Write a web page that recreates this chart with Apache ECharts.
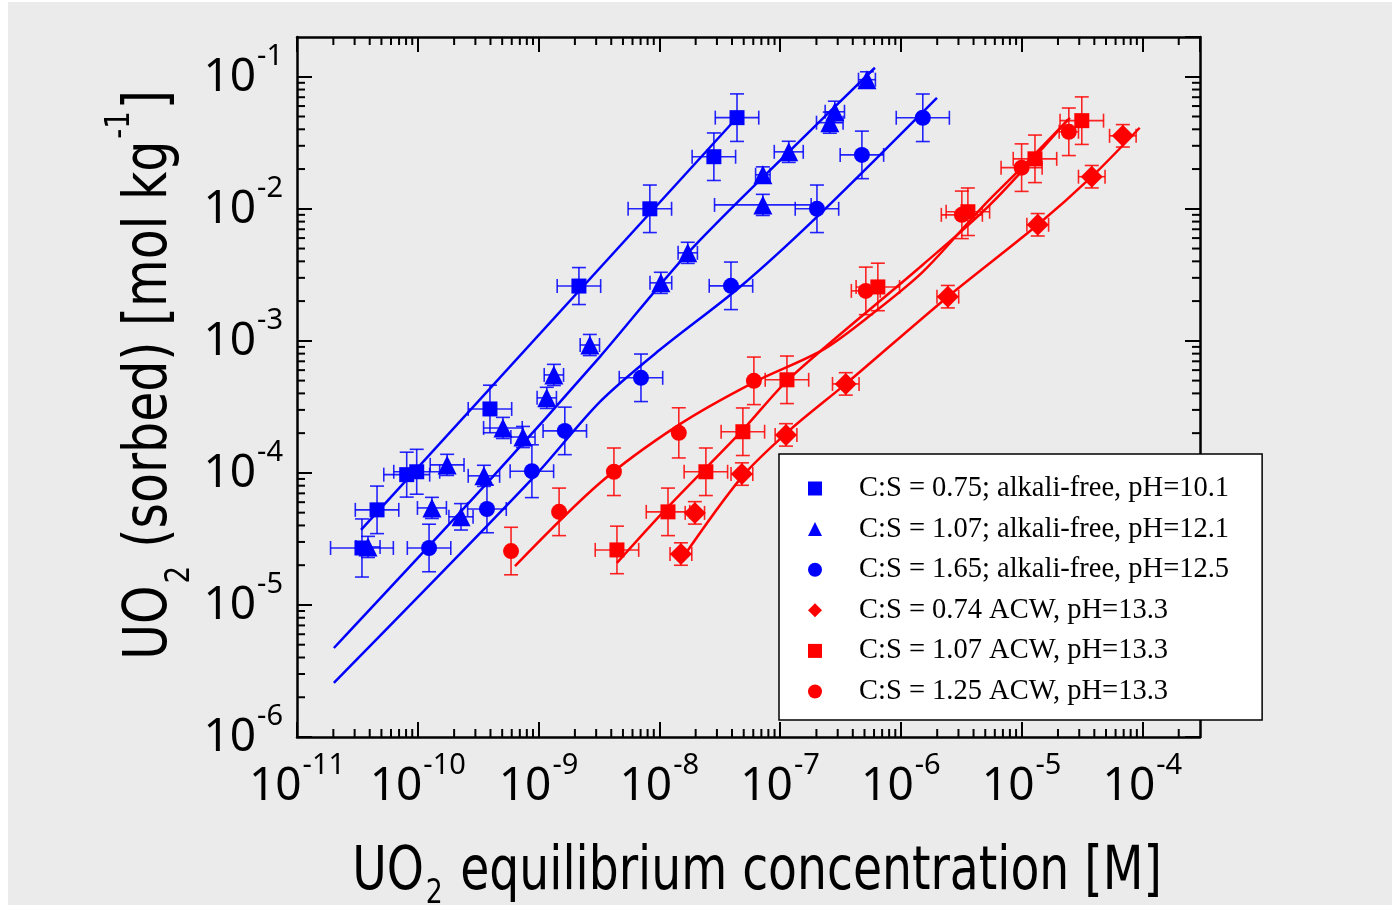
<!DOCTYPE html>
<html><head><meta charset="utf-8">
<script src="https://cdn.jsdelivr.net/npm/echarts@6/dist/echarts.min.js"></script>
<style>html,body{margin:0;padding:0;background:#fff}#c{width:1398px;height:911px}</style>
</head><body><div id="c"></div><script>
// ---- axis ranges & tick labels (real units / exponents) ----
const X_MIN = 1e-11, X_MAX = 3e-4;
const Y_MIN = 1e-6, Y_MAX = 0.2;
const xExponents = [-11, -10, -9, -8, -7, -6, -5, -4];
const yExponents = [-6, -5, -4, -3, -2, -1];
const xTitle = ['UO', '2', ' equilibrium concentration [M]'];
const yTitle = ['UO', '2', ' (sorbed) [mol kg', '-1', ']'];

const seriesNames = [
  'C:S = 0.75; alkali-free, pH=10.1',
  'C:S = 1.07; alkali-free, pH=12.1',
  'C:S = 1.65; alkali-free, pH=12.5',
  'C:S = 0.74 ACW, pH=13.3',
  'C:S = 1.07 ACW, pH=13.3',
  'C:S = 1.25 ACW, pH=13.3'
];

// data points: [x (M), y (mol/kg), x-error (log10 half width), y-error (log10 half width)]
const blueSquares = [
  [3.45e-11, 2.7e-5, 0.26, 0.22], [4.6e-11, 5.25e-5, 0.18, 0.18], [8.1e-11, 9.7e-5, 0.19, 0.17],
  [9.8e-11, 1.02e-4, 0.19, 0.17], [3.96e-10, 3.05e-4, 0.18, 0.18], [2.16e-9, 2.6e-3, 0.18, 0.14],
  [8.35e-9, 1.0e-2, 0.18, 0.18], [2.83e-8, 2.48e-2, 0.18, 0.18], [4.4e-8, 4.9e-2, 0.18, 0.18]
];
const blueTriangles = [
  [3.87e-11, 2.75e-5, 0.10, 0.08], [1.31e-10, 5.43e-5, 0.12, 0.08], [1.75e-10, 1.15e-4, 0.14, 0.08],
  [2.28e-10, 4.65e-5, 0.10, 0.10], [3.53e-10, 9.5e-5, 0.13, 0.08], [5.07e-10, 2.19e-4, 0.16, 0.08],
  [7.43e-10, 1.87e-4, 0.10, 0.08], [1.17e-9, 3.7e-4, 0.08, 0.08], [1.34e-9, 5.52e-4, 0.08, 0.08],
  [2.66e-9, 9.3e-4, 0.08, 0.08], [1.03e-8, 2.75e-3, 0.09, 0.08], [1.72e-8, 4.64e-3, 0.08, 0.08],
  [7.2e-8, 1.07e-2, 0.40, 0.08], [7.2e-8, 1.81e-2, 0.06, 0.06], [1.18e-7, 2.7e-2, 0.12, 0.08],
  [2.58e-7, 4.49e-2, 0.11, 0.08], [2.84e-7, 5.43e-2, 0.08, 0.08], [5.24e-7, 9.5e-2, 0.07, 0.06]
];
const blueCircles = [
  [1.24e-10, 2.7e-5, 0.18, 0.18], [3.74e-10, 5.33e-5, 0.16, 0.18], [8.81e-10, 1.03e-4, 0.18, 0.20],
  [1.65e-9, 2.08e-4, 0.18, 0.18], [7.05e-9, 5.25e-4, 0.18, 0.18], [3.92e-8, 2.61e-3, 0.18, 0.18],
  [2.02e-7, 1.0e-2, 0.18, 0.18], [4.76e-7, 2.56e-2, 0.18, 0.18], [1.52e-6, 4.89e-2, 0.22, 0.18]
];
const redDiamonds = [
  [1.51e-8, 2.43e-5, 0.09, 0.085], [1.97e-8, 4.98e-5, 0.08, 0.085], [4.83e-8, 9.8e-5, 0.09, 0.085],
  [1.12e-7, 1.94e-4, 0.09, 0.085], [3.5e-7, 4.72e-4, 0.11, 0.085], [2.45e-6, 2.16e-3, 0.09, 0.085],
  [1.36e-5, 7.57e-3, 0.09, 0.085], [3.81e-5, 1.75e-2, 0.11, 0.085], [6.89e-5, 3.57e-2, 0.11, 0.085]
];
const redSquares = [
  [4.46e-9, 2.61e-5, 0.18, 0.18], [1.18e-8, 5.07e-5, 0.18, 0.18], [2.43e-8, 1.02e-4, 0.18, 0.18],
  [4.92e-8, 2.05e-4, 0.18, 0.18], [1.14e-7, 5.07e-4, 0.18, 0.18], [6.45e-7, 2.56e-3, 0.18, 0.18],
  [3.59e-6, 9.5e-3, 0.18, 0.18], [1.29e-5, 2.39e-2, 0.18, 0.18], [3.15e-5, 4.65e-2, 0.18, 0.18]
];
const redCircles = [
  [5.92e-10, 2.56e-5, 0, 0.18], [1.48e-9, 5.07e-5, 0, 0.18], [4.21e-9, 1.02e-4, 0, 0.18],
  [1.45e-8, 2.01e-4, 0, 0.19], [6.07e-8, 4.98e-4, 0, 0.18], [5.13e-7, 2.39e-3, 0.12, 0.18],
  [3.2e-6, 9.0e-3, 0.17, 0.18], [1.0e-5, 2.05e-2, 0.17, 0.18], [2.46e-5, 3.83e-2, 0.08, 0.18]
];

// fitted curves [x, y]
const fitBlueSquares = [[3.39e-11, 3.70e-5], [4.39e-8, 4.89e-2]];
const fitBlueTriangles = [[2.02e-11, 4.72e-6], [3.96e-10, 8.85e-5], [3.22e-9, 7.57e-4], [1.73e-8, 4.64e-3], [1.18e-7, 2.70e-2], [6.1e-7, 0.117]];
const fitBlueCircles = [[2.02e-11, 2.57e-6], [9.0e-10, 9.16e-5], [3.22e-9, 3.45e-4], [1.01e-8, 8.55e-4], [4.65e-8, 2.56e-3], [2.02e-7, 8.7e-3], [1.99e-6, 6.93e-2]];
const fitRedDiamonds = [[1.48e-8, 2.12e-5], [4.83e-8, 9.33e-5], [1.21e-7, 2.12e-4], [3.5e-7, 4.72e-4], [2.45e-6, 2.16e-3], [1.36e-5, 7.57e-3], [3.81e-5, 1.75e-2], [9.5e-5, 4.11e-2]];
const fitRedSquares = [[4.46e-9, 2.08e-5], [1.18e-8, 5.52e-5], [4.92e-8, 2.12e-4], [1.21e-7, 5.25e-4], [1.52e-6, 3.77e-3], [5.46e-6, 1.07e-2], [2.41e-5, 4.72e-2]];
const fitRedCircles = [[6.38e-10, 1.97e-5], [3.22e-9, 8.39e-5], [1.45e-8, 2.31e-4], [5.95e-8, 4.81e-4], [2.26e-7, 8.55e-4], [5.24e-7, 1.49e-3], [1.52e-6, 3.33e-3], [4.77e-6, 1.04e-2], [1.0e-5, 2.05e-2], [2.51e-5, 4.89e-2]];

// ---- build ----
const L = Math.log10;
const xLo = L(X_MIN), xHi = L(X_MAX), yLo = L(Y_MIN), yHi = L(Y_MAX);
const BLUE = '#0000FF', RED = '#FF0000';
const LABEL_FONT = '"Noto Sans", "Open Sans", sans-serif';
const TITLE_FONT = '"DejaVu Sans Condensed", "DejaVu Sans", sans-serif';

const groups = [
  {name: seriesNames[0], pts: blueSquares, fit: fitBlueSquares, color: BLUE, symbol: 'rect', size: 15},
  {name: seriesNames[1], pts: blueTriangles, fit: fitBlueTriangles, color: BLUE, symbol: 'triangle', size: 19},
  {name: seriesNames[2], pts: blueCircles, fit: fitBlueCircles, color: BLUE, symbol: 'circle', size: 16},
  {name: seriesNames[3], pts: redDiamonds, fit: fitRedDiamonds, color: RED, symbol: 'diamond', size: 22},
  {name: seriesNames[4], pts: redSquares, fit: fitRedSquares, color: RED, symbol: 'rect', size: 15},
  {name: seriesNames[5], pts: redCircles, fit: fitRedCircles, color: RED, symbol: 'circle', size: 16}
];

function labelFmt(exps) {
  return function (v) {
    const r = Math.round(v);
    if (Math.abs(v - r) > 1e-6 || exps.indexOf(r) < 0) return '';
    return '{b|10}{s|' + r + '}';
  };
}
const labelRich = {
  b: {fontSize: 46, fontFamily: LABEL_FONT, color: '#000', lineHeight: 46, verticalAlign: 'bottom', padding: [0, 0, 11, 0]},
  s: {fontSize: 29, fontFamily: LABEL_FONT, color: '#000', lineHeight: 70, verticalAlign: 'top', padding: [0, 0, 0, 1]}
};

function errRender(color) {
  return function (params, api) {
    const x = api.value(0), y = api.value(1), ex = api.value(2), ey = api.value(3);
    const cap = 7;
    const st = {stroke: color, lineWidth: 1.6, opacity: 0.85};
    const ch = [];
    if (ex > 0) {
      const l = api.coord([x - ex, y]), r = api.coord([x + ex, y]);
      ch.push({type: 'line', shape: {x1: l[0], y1: l[1], x2: r[0], y2: r[1]}, style: st});
      ch.push({type: 'line', shape: {x1: l[0], y1: l[1] - cap, x2: l[0], y2: l[1] + cap}, style: st});
      ch.push({type: 'line', shape: {x1: r[0], y1: r[1] - cap, x2: r[0], y2: r[1] + cap}, style: st});
    }
    if (ey > 0) {
      const t = api.coord([x, y + ey]), b = api.coord([x, y - ey]);
      ch.push({type: 'line', shape: {x1: t[0], y1: t[1], x2: b[0], y2: b[1]}, style: st});
      ch.push({type: 'line', shape: {x1: t[0] - cap, y1: t[1], x2: t[0] + cap, y2: t[1]}, style: st});
      ch.push({type: 'line', shape: {x1: b[0] - cap, y1: b[1], x2: b[0] + cap, y2: b[1]}, style: st});
    }
    return {type: 'group', children: ch};
  };
}

// minor ticks (2..9 within each decade)
const minorData = [];
for (let n = Math.floor(xLo); n < xHi; n++) for (let k = 2; k <= 9; k++) {
  const v = n + L(k); if (v > xLo && v < xHi) minorData.push([v, yLo, 0]);
}
for (let n = Math.floor(yLo); n < yHi; n++) for (let k = 2; k <= 9; k++) {
  const v = n + L(k); if (v > yLo && v < yHi) minorData.push([xLo, v, 1]);
}
function minorRender(params, api) {
  const cs = params.coordSys;
  const len = 8;
  const st = {stroke: '#000', lineWidth: 2};
  if (api.value(2) === 0) {
    const x = api.coord([api.value(0), yLo])[0];
    return {type: 'group', children: [
      {type: 'line', shape: {x1: x, y1: cs.y + cs.height, x2: x, y2: cs.y + cs.height - len}, style: st},
      {type: 'line', shape: {x1: x, y1: cs.y, x2: x, y2: cs.y + len}, style: st}
    ]};
  }
  const y = api.coord([xLo, api.value(1)])[1];
  return {type: 'group', children: [
    {type: 'line', shape: {x1: cs.x, y1: y, x2: cs.x + len, y2: y}, style: st},
    {type: 'line', shape: {x1: cs.x + cs.width, y1: y, x2: cs.x + cs.width - len, y2: y}, style: st}
  ]};
}

const series = [];
series.push({type: 'custom', renderItem: minorRender, data: minorData, z: 1, silent: true, clip: false});
groups.forEach(g => {
  series.push({type: 'line', data: g.fit.map(p => [L(p[0]), L(p[1])]), smooth: 0.3, showSymbol: false,
    lineStyle: {color: g.color, width: 2.5}, z: 2, silent: true});
  series.push({type: 'custom', renderItem: errRender(g.color), data: g.pts.map(p => [L(p[0]), L(p[1]), p[2], p[3]]),
    z: 3, silent: true});
  series.push({type: 'scatter', name: g.name, data: g.pts.map(p => [L(p[0]), L(p[1])]), symbol: g.symbol,
    symbolSize: g.size, itemStyle: {color: g.color, opacity: 1}, z: 4});
});

const axisCommon = {
  type: 'value', splitLine: {show: false},
  axisLine: {show: true, onZero: false, lineStyle: {color: '#000', width: 2.5}},
  axisTick: {show: true, inside: true, length: 15, lineStyle: {color: '#000', width: 2}}
};

const titleA = {fontSize: 60, fontFamily: TITLE_FONT, fill: '#000', color: '#000', lineHeight: 60};
const option = {
  animation: false,
  backgroundColor: 'transparent',
  graphic: {elements: [
    {type: 'rect', z: -100, silent: true, shape: {x: 8, y: 2, width: 1384, height: 903}, style: {fill: '#EBEBEB'}},
    {type: 'text', x: 757, y: 877, scaleX: 0.875, silent: true, z: 10,
      style: {
        text: '{a|' + xTitle[0] + '}{sub|' + xTitle[1] + '}{a|' + xTitle[2] + '}',
        align: 'center', verticalAlign: 'middle', textAlign: 'center', textVerticalAlign: 'middle',
        rich: {
          a: Object.assign({}, titleA, {verticalAlign: 'top'}),
          sub: {fontSize: 34, fontFamily: TITLE_FONT, fill: '#000', color: '#000', lineHeight: 68, verticalAlign: 'bottom', padding: [0, 3, 0, 2]}
        }
      }},
    {type: 'text', x: 150, y: 375, rotation: Math.PI / 2, scaleX: 0.907, silent: true, z: 10,
      style: {
        text: '{a|' + yTitle[0] + '}{sub|' + yTitle[1] + '}{a|' + yTitle[2] + '}{sup|' + yTitle[3] + '}{a|' + yTitle[4] + '}',
        align: 'center', verticalAlign: 'middle', textAlign: 'center', textVerticalAlign: 'middle',
        rich: {
          a: Object.assign({}, titleA, {verticalAlign: 'middle'}),
          sub: {fontSize: 34, fontFamily: TITLE_FONT, fill: '#000', color: '#000', lineHeight: 94, verticalAlign: 'bottom', padding: [0, 3, 0, 2]},
          sup: {fontSize: 34, fontFamily: TITLE_FONT, fill: '#000', color: '#000', lineHeight: 94, verticalAlign: 'top', padding: [0, 2, 0, 2]}
        }
      }}
  ]},
  grid: {left: 297, right: 198, top: 37, bottom: 174, containLabel: false},
  legend: {
    data: seriesNames, orient: 'vertical', left: 779, top: 454,
    backgroundColor: '#fff', borderColor: '#000', borderWidth: 1.5, borderRadius: 0,
    padding: [20, 33, 14, 29], itemGap: 11.6, itemWidth: 14, itemHeight: 14,
    textStyle: {fontFamily: '"Liberation Serif", "Times New Roman", serif', fontSize: 28.5, lineHeight: 28, color: '#000', padding: [0, 0, 0, 32]},
    selectedMode: false
  },
  xAxis: [
    Object.assign({}, axisCommon, {
      position: 'bottom', min: xLo, max: xHi, interval: 1,
      axisLabel: {margin: 14, formatter: labelFmt(xExponents), rich: labelRich, showMaxLabel: false}
    }),
    Object.assign({}, axisCommon, {position: 'top', min: xLo, max: xHi, interval: 1, axisLabel: {show: false}})
  ],
  yAxis: [
    Object.assign({}, axisCommon, {
      position: 'left', min: yLo, max: yHi, interval: 1,
      axisLabel: {margin: 14, formatter: labelFmt(yExponents), rich: labelRich, showMaxLabel: false}
    }),
    Object.assign({}, axisCommon, {position: 'right', min: yLo, max: yHi, interval: 1, axisLabel: {show: false}})
  ],
  series: series
};

const chart = echarts.init(document.getElementById('c'), null, {renderer: 'canvas'});
chart.setOption(option);
</script></body></html>
